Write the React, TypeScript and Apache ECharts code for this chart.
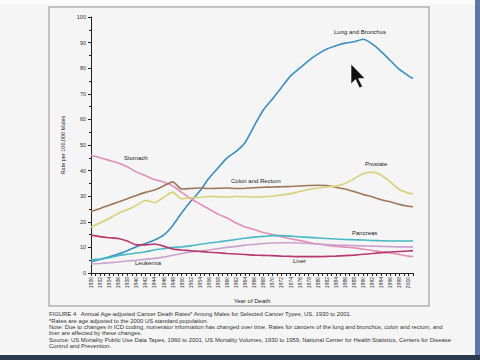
import React, { useEffect, useRef } from "react";
import * as echarts from "echarts";

const years = [1930, 1932, 1934, 1936, 1938, 1940, 1942, 1944, 1946, 1948, 1950, 1952, 1954, 1956, 1958, 1960, 1962, 1964, 1966, 1968, 1970, 1972, 1974, 1976, 1978, 1980, 1982, 1984, 1986, 1988, 1990, 1992, 1994, 1996, 1998, 2000, 2001];

const lung = [4.4, 5.3, 6.3, 7.4, 8.7, 10.3, 11.5, 12.9, 14.8, 18.5, 23.5, 28, 32, 37, 41, 45, 47.5, 51, 57.5, 63.7, 68, 72.5, 77, 80, 83, 85.5, 87.5, 88.8, 89.8, 90.3, 91.3, 89.5, 86.5, 83, 79.5, 77, 76];
const stomach = [46, 45, 44, 43, 41.5, 39.5, 38, 36.5, 35.5, 34, 31.5, 29, 27, 25, 23, 21.5, 19.5, 18, 17, 15.8, 15, 14.2, 13.4, 12.7, 12, 11.3, 10.8, 10.4, 10.1, 9.8, 9.3, 8.8, 8.3, 7.8, 7.2, 6.6, 6.4];
const colon = [24, 25.2, 26.5, 27.7, 29, 30.3, 31.5, 32.4, 34, 35.6, 32.8, 33, 33.2, 33, 33.1, 33.2, 33, 33.1, 33.3, 33.5, 33.6, 33.7, 33.8, 34, 34.2, 34.3, 34.2, 33.5, 32.8, 31.8, 30.7, 29.8, 28.6, 27.8, 26.8, 26.1, 25.9];
const prostate = [18, 19.5, 21.3, 23.3, 24.7, 26.4, 28.3, 27.5, 29.5, 31.6, 29, 29.4, 29.6, 29.9, 29.8, 29.7, 29.9, 29.8, 29.7, 29.8, 30, 30.5, 31, 31.8, 32.6, 33.2, 33.6, 34, 35, 36.8, 38.8, 39.4, 38.2, 35.6, 32.6, 31.2, 30.9];
const pancreas = [5.1, 5.5, 6, 6.8, 7.3, 7.8, 8.3, 9, 9.5, 10, 10.2, 10.6, 11.2, 11.7, 12.1, 12.6, 13.1, 13.6, 14, 14.3, 14.6, 14.6, 14.4, 14.1, 13.9, 13.7, 13.5, 13.3, 13.1, 13, 12.9, 12.7, 12.6, 12.5, 12.5, 12.5, 12.6];
const leukemia = [3.5, 3.7, 4, 4.3, 4.7, 5, 5.4, 5.7, 6.2, 6.9, 7.6, 8.2, 8.6, 9, 9.5, 10, 10.4, 10.9, 11.2, 11.5, 11.7, 11.8, 11.8, 11.7, 11.5, 11.3, 11.1, 10.9, 10.8, 10.7, 10.6, 10.5, 10.4, 10.3, 10.2, 10.2, 10.1];
const liver = [14.8, 14.2, 13.8, 13.5, 12.5, 11, 11, 11.3, 10.5, 9.4, 9, 8.7, 8.4, 8.1, 7.9, 7.6, 7.4, 7.2, 7, 6.9, 6.8, 6.6, 6.5, 6.4, 6.4, 6.4, 6.5, 6.6, 6.8, 7, 7.3, 7.6, 7.9, 8.2, 8.4, 8.6, 8.7];

const seriesNames = ["Lung and Bronchus", "Stomach", "Colon and Rectum", "Prostate", "Pancreas", "Leukemia", "Liver"];
const seriesValues = [lung, stomach, colon, prostate, pancreas, leukemia, liver];
const seriesColors = ["#3b8ec0", "#e08fb8", "#9c7658", "#d9cf7a", "#48b8c2", "#c9a0cf", "#b8376c"];

const captionLines = [
  "FIGURE 4   Annual Age-adjusted Cancer Death Rates* Among Males for Selected Cancer Types, US, 1930 to 2001.",
  "*Rates are age adjusted to the 2000 US standard population.",
  "Note: Due to changes in ICD coding, numerator information has changed over time. Rates for cancers of the lung and bronchus, colon and rectum, and",
  "liver are affected by these changes.",
  "Source: US Mortality Public Use Data Tapes, 1960 to 2001, US Mortality Volumes, 1930 to 1959, National Center for Health Statistics, Centers for Disease",
  "Control and Prevention.",
];

export default function App() {
  const ref = useRef<HTMLDivElement>(null);
  useEffect(() => {
    const chart = echarts.init(ref.current!, null, { renderer: "svg" });
    const font = "'Liberation Sans', Arial, sans-serif";
    const labelPos: Record<string, [number, number]> = {
      "Lung and Bronchus": [334, 29],
      Stomach: [124, 155],
      "Colon and Rectum": [231, 178],
      Prostate: [365, 161],
      Pancreas: [352, 230],
      Leukemia: [135, 260],
      Liver: [293, 258],
    };
    const seriesLabels = seriesNames.map((n) => ({
      type: "text",
      x: labelPos[n][0],
      y: labelPos[n][1],
      style: { text: n, fontSize: 6, fill: "#222", fontFamily: font },
      z: 10,
    }));
    const captions = captionLines.map((t, i) => ({
      type: "text",
      x: 49,
      y: [310.5, 317.5, 323.5, 330, 336.5, 343][i],
      style: { text: t, fontSize: 5.9, fill: "#333", fontFamily: font },
    }));
    chart.setOption({
      animation: false,
      backgroundColor: "#f5f5f5",
      grid: { left: 91, right: 67, top: 17, bottom: 87 },
      xAxis: {
        type: "value",
        min: 1930,
        max: 2001,
        interval: 1,
        name: "Year of Death",
        nameLocation: "middle",
        nameGap: 25,
        nameTextStyle: { fontSize: 6, color: "#222", fontFamily: font },
        axisLine: { lineStyle: { color: "#222", width: 1 } },
        axisTick: { show: true, length: 3, lineStyle: { color: "#222" } },
        splitLine: { show: false },
        axisLabel: {
          rotate: 90,
          fontSize: 5,
          color: "#333",
          margin: 4,
          fontFamily: font,
          formatter: (v: number) => (v % 2 === 0 ? String(v) : ""),
        },
      },
      yAxis: {
        type: "value",
        min: 0,
        max: 100,
        interval: 10,
        name: "Rate per 100,000 Males",
        nameLocation: "middle",
        nameRotate: 90,
        nameGap: 24,
        nameTextStyle: { fontSize: 5.5, color: "#222", fontFamily: font },
        axisLine: { show: true, lineStyle: { color: "#222", width: 1 } },
        axisTick: { show: true, length: 3, lineStyle: { color: "#222" } },
        minorTick: { show: true, splitNumber: 2, length: 2, lineStyle: { color: "#222" } },
        splitLine: { show: false },
        axisLabel: { fontSize: 5.5, color: "#333", margin: 5, fontFamily: font },
      },
      series: seriesNames.map((n, i) => ({
        name: n,
        type: "line",
        showSymbol: false,
        smooth: 0.2,
        data: years.map((y, j) => [y, seriesValues[i][j]]),
        lineStyle: { color: seriesColors[i], width: 1.6 },
        itemStyle: { color: seriesColors[i] },
      })),
      graphic: [
        { type: "rect", shape: { x: 0, y: 0, width: 480, height: 5 }, style: { fill: "#fbfbfb" }, z: -10 },
        {
          type: "rect",
          shape: { x: 49, y: 7, width: 380, height: 299 },
          style: { fill: "none", stroke: "#b0b0b0", lineWidth: 1.5 },
        },
        { type: "rect", shape: { x: 475, y: 0, width: 5, height: 360 }, style: { fill: "#5a78a8" } },
        { type: "rect", shape: { x: 0, y: 355, width: 480, height: 5 }, style: { fill: "#2b3a4e" } },
        ...captions,
        ...seriesLabels,
        {
          type: "polygon",
          shape: {
            points: [
              [351, 64],
              [351, 84],
              [355.5, 79.5],
              [359.5, 88],
              [362.5, 86.5],
              [358.5, 78.5],
              [365, 78.5],
            ],
          },
          style: { fill: "#111", stroke: "#fff", lineWidth: 0.6 },
          z: 20,
        },
      ],
    });
    return () => chart.dispose();
  }, []);
  return <div ref={ref} style={{ position: "fixed", left: 0, top: 0, width: 480, height: 360 }} />;
}
